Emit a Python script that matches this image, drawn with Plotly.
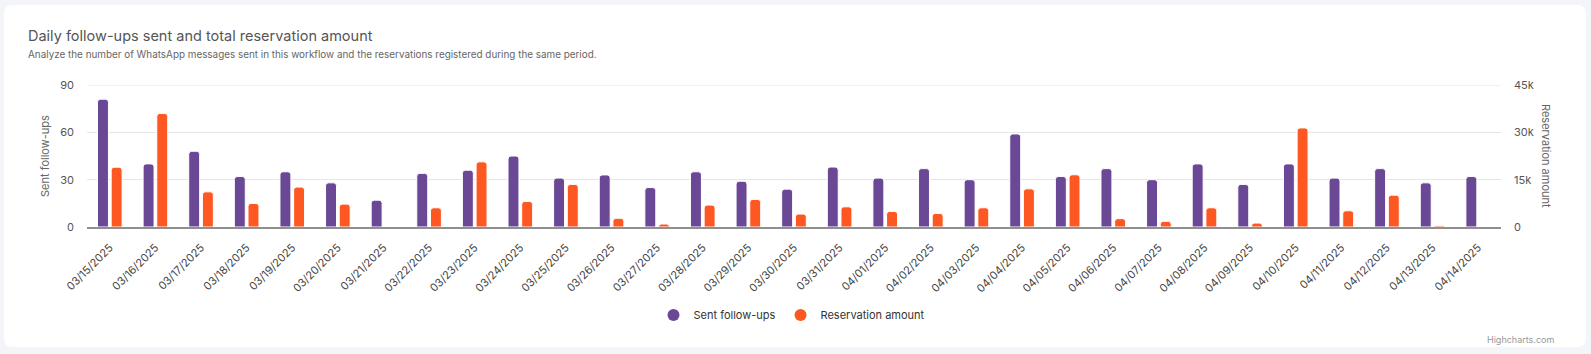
import plotly.graph_objects as go

dates = ["03/15/2025", "03/16/2025", "03/17/2025", "03/18/2025", "03/19/2025", "03/20/2025",
         "03/21/2025", "03/22/2025", "03/23/2025", "03/24/2025", "03/25/2025", "03/26/2025",
         "03/27/2025", "03/28/2025", "03/29/2025", "03/30/2025", "03/31/2025", "04/01/2025",
         "04/02/2025", "04/03/2025", "04/04/2025", "04/05/2025", "04/06/2025", "04/07/2025",
         "04/08/2025", "04/09/2025", "04/10/2025", "04/11/2025", "04/12/2025", "04/13/2025",
         "04/14/2025"]
sent_followups = [81, 40, 48, 32, 35, 28, 17, 34, 36, 45, 31, 33, 25, 35, 29, 24, 38, 31,
                  37, 30, 59, 32, 37, 30, 40, 27, 40, 31, 37, 28, 32]
reservation_amount = [18950, 36000, 11150, 7480, 12650, 7250, 0, 6100, 20650, 8100, 13500, 2750,
                      950, 6950, 8750, 4100, 6400, 4950, 4300, 6100, 12100, 16550, 2650, 1800,
                      6100, 1250, 31400, 5150, 10100, 400, 0]
left_ticks = [0, 30, 60, 90]
right_ticks = [0, 15000, 30000, 45000]
right_tick_text = ["0", "15k", "30k", "45k"]

PURPLE = "#6a4896"
ORANGE = "#ff5722"
FONT = "Inter"

W, H = 1591, 354
L, R, T, B = 87, 1501, 85, 227


def px_x(p):
    return (p - L) / (R - L)


def px_y(p):
    return (B - p) / (B - T)


fig = go.Figure()
fig.add_trace(go.Bar(
    x=dates, y=sent_followups, name="Sent follow-ups", marker_color=PURPLE,
    marker_line_color="white", marker_line_width=1, marker_cornerradius=3,
    width=0.24, offset=-0.27, yaxis="y", showlegend=False))
fig.add_trace(go.Bar(
    x=dates, y=reservation_amount, name="Reservation amount", marker_color=ORANGE,
    marker_line_color="white", marker_line_width=1, marker_cornerradius=3,
    width=0.24, offset=0.03, yaxis="y2", showlegend=False))
# legend entries with round symbols
fig.add_trace(go.Scatter(x=[None], y=[None], mode="markers", name="Sent follow-ups",
                         marker=dict(color=PURPLE, size=11, symbol="circle")))
fig.add_trace(go.Scatter(x=[None], y=[None], mode="markers", name="Reservation amount",
                         marker=dict(color=ORANGE, size=11, symbol="circle")))

# card background with rounded corners
x0, x1, y0, y1, r = 4, 1586, 5, 347, 9
def P(px, py):
    return f"{px_x(px)},{px_y(py)}"
path = (f"M {P(x0 + r, y0)} L {P(x1 - r, y0)} Q {P(x1, y0)} {P(x1, y0 + r)} "
        f"L {P(x1, y1 - r)} Q {P(x1, y1)} {P(x1 - r, y1)} L {P(x0 + r, y1)} "
        f"Q {P(x0, y1)} {P(x0, y1 - r)} L {P(x0, y0 + r)} Q {P(x0, y0)} {P(x0 + r, y0)} Z")

fig.update_layout(
    width=W, height=H, autosize=False,
    margin=dict(l=L, r=W - R, t=T, b=H - B),
    paper_bgcolor="#f4f5f9", plot_bgcolor="rgba(0,0,0,0)",
    font=dict(family=FONT, color="#666666", size=11),
    barmode="overlay",
    shapes=[dict(type="path", path=path, xref="paper", yref="paper",
                 fillcolor="white", line=dict(width=0), layer="below"),
            dict(type="line", xref="paper", yref="y", x0=0, x1=1,
                 y0=left_ticks[-1], y1=left_ticks[-1],
                 line=dict(color="#e6e6e6", width=1), layer="below")],
    xaxis=dict(type="category", tickangle=-45, showgrid=False, showline=True,
               linecolor="#8f8f8f", linewidth=2, ticks="outside", ticklen=8,
               tickcolor="rgba(0,0,0,0)", tickfont=dict(size=11, color="#444444"),
               range=[-0.5, len(dates) - 0.5], fixedrange=True),
    yaxis=dict(range=[0, 90], tickmode="array", tickvals=left_ticks,
               gridcolor="#e6e6e6", gridwidth=1,
               zeroline=False, showline=False, ticklabelstandoff=12,
               tickfont=dict(size=11, color="#555555")),
    yaxis2=dict(range=[0, 45000], tickmode="array", tickvals=right_ticks,
                ticktext=right_tick_text,
                overlaying="y", side="right", showgrid=False, zeroline=False,
                ticklabelstandoff=12, tickfont=dict(size=11, color="#555555")),
    legend=dict(orientation="h", x=px_x(792), xanchor="center", y=px_y(315),
                yanchor="middle", font=dict(size=11, color="#333333"),
                bgcolor="rgba(0,0,0,0)", itemsizing="constant"),
    annotations=[
        dict(text="Daily follow-ups sent and total reservation amount", x=px_x(26), y=px_y(35),
             xref="paper", yref="paper", xanchor="left", yanchor="middle", showarrow=False,
             font=dict(size=14.5, color="#555555", family=FONT)),
        dict(text="Analyze the number of WhatsApp messages sent in this workflow and the reservations registered during the same period.",
             x=px_x(26), y=px_y(54), xref="paper", yref="paper", xanchor="left",
             yanchor="middle", showarrow=False, font=dict(size=9.9, color="#666666", family=FONT)),
        dict(text="Sent follow-ups", x=px_x(45), y=px_y(156), xref="paper", yref="paper",
             textangle=-90, showarrow=False, xanchor="center", yanchor="middle",
             font=dict(size=11, color="#666666")),
        dict(text="Reservation amount", x=px_x(1546), y=px_y(156), xref="paper", yref="paper",
             textangle=90, showarrow=False, xanchor="center", yanchor="middle",
             font=dict(size=11, color="#666666")),
        dict(text="Highcharts.com", x=px_x(1556), y=px_y(339), xref="paper", yref="paper",
             xanchor="right", yanchor="middle", showarrow=False,
             font=dict(size=9, color="#999999")),
    ],
)

fig.write_html("out.html")
